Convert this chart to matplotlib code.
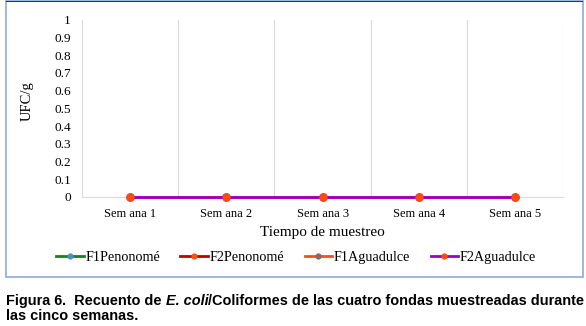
import matplotlib.pyplot as plt
from matplotlib.patches import Rectangle

semanas = ['Sem ana 1', 'Sem ana 2', 'Sem ana 3', 'Sem ana 4', 'Sem ana 5']
f1_penonome = [0, 0, 0, 0, 0]
f2_penonome = [0, 0, 0, 0, 0]
f1_aguadulce = [0, 0, 0, 0, 0]
f2_aguadulce = [0, 0, 0, 0, 0]
yticks = [0, 0.1, 0.2, 0.3, 0.4, 0.5, 0.6, 0.7, 0.8, 0.9, 1]

series = [
    ('F1Penonomé', f1_penonome, '#1e7b1e', '#4a90c8'),
    ('F2Penonomé', f2_penonome, '#c00000', '#ff5010'),
    ('F1Aguadulce', f1_aguadulce, '#ff4a1a', '#a06050'),
    ('F2Aguadulce', f2_aguadulce, '#9a00cc', '#ff4a10'),
]

serif = ['Liberation Serif', 'DejaVu Serif']
plt.rcParams['font.family'] = serif

fig = plt.figure(figsize=(5.86, 3.26), dpi=100)
ax = fig.add_axes([0.140, 0.396, 0.821, 0.543])

x = list(range(len(semanas)))
for name, vals, col, mcol in series:
    ax.plot(x, vals, color=col, lw=2, marker='o', ms=5, mfc=mcol, mec=mcol,
            label=name, clip_on=False, zorder=3)

ax.set_xlim(-0.5, len(semanas) - 0.5)
ax.set_ylim(0, 1)
ax.set_yticks(yticks)
ax.set_yticklabels([('%g' % t) for t in yticks], fontsize=9.5, family=serif)
ax.set_xticks(x)
ax.set_xticklabels(semanas, fontsize=9, family=serif)
ax.set_xticks([i + 0.5 for i in range(-1, len(semanas))], minor=True)
ax.grid(True, which='minor', axis='x', color='#d9d9d9', lw=0.8)
ax.tick_params(which='both', length=0)
ax.tick_params(axis='x', pad=8)
ax.tick_params(axis='y', pad=8)
for s in ['top', 'right', 'left']:
    ax.spines[s].set_visible(False)
ax.spines['bottom'].set_color('#d9d9d9')
ax.set_xlabel('Tiempo de muestreo', fontsize=11, labelpad=4, family=serif)
ax.set_ylabel('UFC/g', fontsize=10.5, family=serif)
ax.yaxis.set_label_coords(-0.100, 0.54)

fig.legend(loc='center', bbox_to_anchor=(0.505, 0.21), ncol=4, frameon=False,
           prop={'family': serif, 'size': 10.2}, handlelength=1.95,
           handletextpad=0.1, columnspacing=1.45, markerscale=0.7)

# frame around chart
fig.patches.append(Rectangle((6 / 586, 1 - 277 / 326), 577 / 586, 276 / 326,
                             transform=fig.transFigure, fill=False,
                             ec='#8ea9db', lw=1.2))
fig.patches.append(Rectangle((6 / 586, 1 - 2 / 326), 577 / 586, 1.5 / 326,
                             transform=fig.transFigure, fill=True,
                             color='#1f3864', lw=0))

# caption with italic part
fig.canvas.draw()
r = fig.canvas.get_renderer()
parts = [('Figura 6', 'normal'), ('.  Recuento de ', 'normal'), ('E. coli', 'italic'),
         ('/Coliformes de las cuatro fondas muestreadas durante', 'normal')]
xpos = 6 / 586
for txt, style in parts:
    t = fig.text(xpos, 1 - 301 / 326, txt, fontsize=10.45, fontweight='bold', style=style,
                 family='Liberation Sans', va='center', ha='left')
    bb = t.get_window_extent(r)
    xpos = bb.x1 / fig.bbox.width
fig.text(6 / 586, 1 - 316 / 326, 'las cinco semanas.', fontsize=10.45, fontweight='bold',
         family='Liberation Sans', va='center', ha='left')

fig.savefig('out.png', dpi=100)
